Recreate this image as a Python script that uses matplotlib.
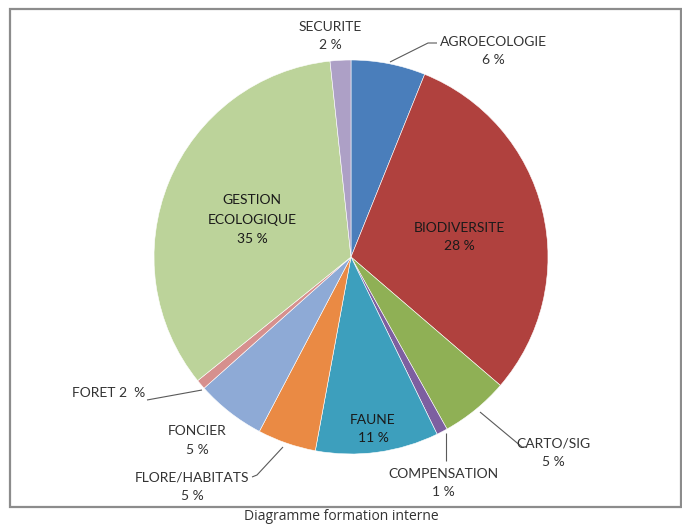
import matplotlib
matplotlib.use("Agg")
import matplotlib.pyplot as plt
from matplotlib.patches import Rectangle

# slice shares as measured on the picture (clockwise from 12 o'clock)
categories = ["AGROECOLOGIE", "BIODIVERSITE", "CARTO/SIG", "COMPENSATION", "FAUNE",
              "FLORE/HABITATS", "FONCIER", "FORET", "GESTION ECOLOGIQUE", "SECURITE"]
shares = [6.1, 30.2, 5.6, 0.9, 10.1, 4.8, 5.7, 0.8, 34.1, 1.7]
pct_labels = ["6 %", "28 %", "5 %", "1 %", "11 %", "5 %", "5 %", "2  %", "35 %", "2 %"]
colors = ["#4a7ebb", "#b0413e", "#8fb055", "#7d5fa0", "#3d9fbd",
          "#ea8a44", "#8eaad6", "#d6908e", "#bcd39a", "#ada0c6"]

W, H = 682, 527
cx, cy, R = 351, 257, 197

fig = plt.figure(figsize=(W / 100, H / 100), dpi=100)
fig.patch.set_facecolor("white")

# outer frame
fig.patches.append(Rectangle((10 / W, (H - 507) / H), 671 / W, 498 / H,
                             transform=fig.transFigure, fill=False,
                             edgecolor="#8c8c8c", lw=1.6))

ax = fig.add_axes([(cx - R) / W, (H - cy - R) / H, 2 * R / W, 2 * R / H])
ax.pie(shares, colors=colors, startangle=90, counterclock=False, radius=1,
       wedgeprops=dict(edgecolor="white", linewidth=0.4))
ax.set_xlim(-1, 1)
ax.set_ylim(-1, 1)
ax.axis("off")


def p(px, py):
    # picture pixel -> pie data units
    return (px - cx) / R, (cy - py) / R


FONT = "Lato"
out_col = "#333333"
in_col = "#1a1a1a"
fs = 10


def txt(px, py, s, col=out_col, ha="center"):
    x, y = p(px, py)
    ax.text(x, y, s, ha=ha, va="center", fontsize=fs, color=col,
            family=FONT, clip_on=False)


def leader(pts):
    xy = [p(*q) for q in pts]
    ax.plot([a for a, b in xy], [b for a, b in xy], color="#5a5a5a", lw=0.8,
            clip_on=False, solid_capstyle="butt")


# outside labels
txt(330, 27, "SECURITE")
txt(330, 45, pct_labels[9])

txt(493, 42, "AGROECOLOGIE")
txt(493, 60, pct_labels[0])
leader([(390, 62), (428, 43), (437, 43)])

txt(553, 443, "CARTO/SIG")
txt(553, 462, pct_labels[2])
leader([(480, 412), (522, 447), (524, 447)])

txt(443, 474, "COMPENSATION")
txt(443, 492, pct_labels[3])
leader([(446, 433), (446, 461)])

txt(192, 477, "FLORE/HABITATS")
txt(192, 496, pct_labels[5])
leader([(252, 477), (257, 475), (283, 447)])

txt(197, 431, "FONCIER")
txt(197, 450, pct_labels[6])

txt(145, 393, "FORET " + pct_labels[7], ha="right")
leader([(147, 400), (202, 390)])

# inside labels
txt(459, 228, "BIODIVERSITE", in_col)
txt(459, 246, pct_labels[1], in_col)

txt(252, 200, "GESTION", in_col)
txt(252, 220, "ECOLOGIQUE", in_col)
txt(252, 239, pct_labels[8], in_col)

txt(373, 420, "FAUNE", in_col)
txt(373, 438, pct_labels[4], in_col)

fig.text(341 / W, 1 - 516 / H, "Diagramme formation interne", ha="center",
         va="center", fontsize=10, color="#333333", family="Open Sans")

fig.savefig("out.png", dpi=100, facecolor="white")
